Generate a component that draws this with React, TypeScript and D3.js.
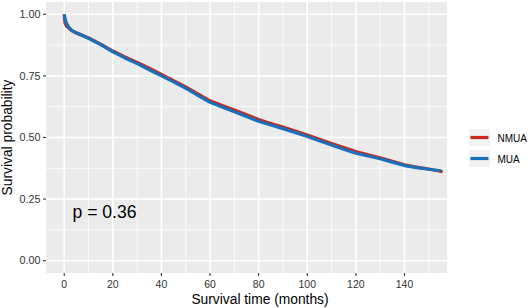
import React from "react";
import * as d3 from "d3";

const times = [0, 0.3, 1, 2, 3, 5, 8, 10, 15, 20, 25, 30, 35, 40, 45, 50, 55, 60, 65, 70, 75, 80, 85, 90, 95, 100, 105, 110, 115, 120, 125, 130, 135, 140, 145, 150, 155];
const nmuaTimes = [0, 0.3, 1, 2, 3, 5, 8, 10, 15, 20, 25, 30, 35, 40, 45, 50, 55, 60, 65, 70, 75, 80, 85, 90, 95, 100, 105, 110, 115, 120, 125, 130, 135, 140, 145, 150, 155.7];
const muaValues = [1.0, 0.982, 0.962, 0.946, 0.936, 0.925, 0.912, 0.903, 0.877, 0.848, 0.823, 0.8, 0.775, 0.75, 0.726, 0.7, 0.671, 0.643, 0.624, 0.605, 0.585, 0.566, 0.551, 0.536, 0.52, 0.504, 0.487, 0.47, 0.452, 0.436, 0.425, 0.414, 0.4, 0.386, 0.378, 0.371, 0.365];
const nmuaValues = [1.0, 0.965, 0.952, 0.943, 0.934, 0.924, 0.912, 0.904, 0.879, 0.851, 0.827, 0.805, 0.781, 0.756, 0.731, 0.705, 0.677, 0.649, 0.63, 0.612, 0.592, 0.573, 0.557, 0.542, 0.526, 0.51, 0.493, 0.476, 0.459, 0.443, 0.43, 0.418, 0.403, 0.389, 0.38, 0.372, 0.361];

const seriesNames = ["NMUA", "MUA"];
const seriesColors = ["#C8291C", "#1A6FBA"];
const xTicks = [0, 20, 40, 60, 80, 100, 120, 140];
const xMinor = [10, 30, 50, 70, 90, 110, 130, 150];
const yTicks = [0, 0.25, 0.5, 0.75, 1.0];
const yMinor = [0.125, 0.375, 0.625, 0.875];
const pText = "p = 0.36";

const W = 532, H = 308;
const P = { left: 46, right: 447, top: 2, bottom: 273 };

export default function App() {
  const x = d3.scaleLinear().domain([-7.5, 157.5]).range([P.left, P.right]);
  const y = d3.scaleLinear().domain([-0.05, 1.05]).range([P.bottom, P.top]);
  const line = d3.line<[number, number]>().x(d => x(d[0])).y(d => y(d[1])).curve(d3.curveLinear);
  const nmua: [number, number][] = nmuaTimes.map((t, i) => [t, nmuaValues[i]]);
  const mua: [number, number][] = times.map((t, i) => [t, muaValues[i]]);
  const font = "'Liberation Sans', Arial, Helvetica, sans-serif";
  return (
    <svg width={W} height={H} style={{ position: "absolute", left: 0, top: 0, background: "#fff" }} fontFamily={font}>
      <rect x={P.left} y={P.top} width={P.right - P.left} height={P.bottom - P.top} fill="#EBEBEB" />
      {xMinor.map(v => <line key={"xm" + v} x1={x(v)} x2={x(v)} y1={P.top} y2={P.bottom} stroke="#fff" strokeWidth={0.8} />)}
      {yMinor.map(v => <line key={"ym" + v} y1={y(v)} y2={y(v)} x1={P.left} x2={P.right} stroke="#fff" strokeWidth={0.8} />)}
      {xTicks.map(v => <line key={"xg" + v} x1={x(v)} x2={x(v)} y1={P.top} y2={P.bottom} stroke="#fff" strokeWidth={1.6} />)}
      {yTicks.map(v => <line key={"yg" + v} y1={y(v)} y2={y(v)} x1={P.left} x2={P.right} stroke="#fff" strokeWidth={1.6} />)}
      <path d={line(nmua) || ""} fill="none" stroke={seriesColors[0]} strokeWidth={3.2} strokeLinejoin="round" />
      <path d={line(mua) || ""} fill="none" stroke={seriesColors[1]} strokeWidth={3.2} strokeLinejoin="round" />
      <text x={72.5} y={218} fontSize={17.6} fill="#000">{pText}</text>
      {xTicks.map(v => (
        <g key={"xt" + v}>
          <line x1={x(v)} x2={x(v)} y1={P.bottom} y2={P.bottom + 3} stroke="#333" strokeWidth={1.1} />
          <text x={x(v)} y={287.5} fontSize={10.5} fill="#333" textAnchor="middle">{d3.format("d")(v)}</text>
        </g>
      ))}
      {yTicks.map(v => (
        <g key={"yt" + v}>
          <line x1={P.left - 3} x2={P.left} y1={y(v)} y2={y(v)} stroke="#333" strokeWidth={1.1} />
          <text x={40.5} y={y(v) + 3.8} fontSize={10.8} fill="#333" textAnchor="end">{d3.format(".2f")(v)}</text>
        </g>
      ))}
      <text x={260} y={303.5} fontSize={13.8} fill="#000" textAnchor="middle">Survival time (months)</text>
      <text transform={`translate(11.5,${(P.top + P.bottom) / 2}) rotate(-90)`} fontSize={13.8} fill="#000" textAnchor="middle">Survival probability</text>
      {seriesNames.map((n, i) => (
        <g key={n} transform={`translate(469,${129 + i * 21})`}>
          <rect x={0} y={0} width={21} height={17} fill="#F2F2F2" />
          <line x1={1.5} x2={19.5} y1={8.5} y2={8.5} stroke={seriesColors[i]} strokeWidth={3.2} />
          <text x={28.5} y={12.5} fontSize={10} fill="#000">{n}</text>
        </g>
      ))}
    </svg>
  );
}
